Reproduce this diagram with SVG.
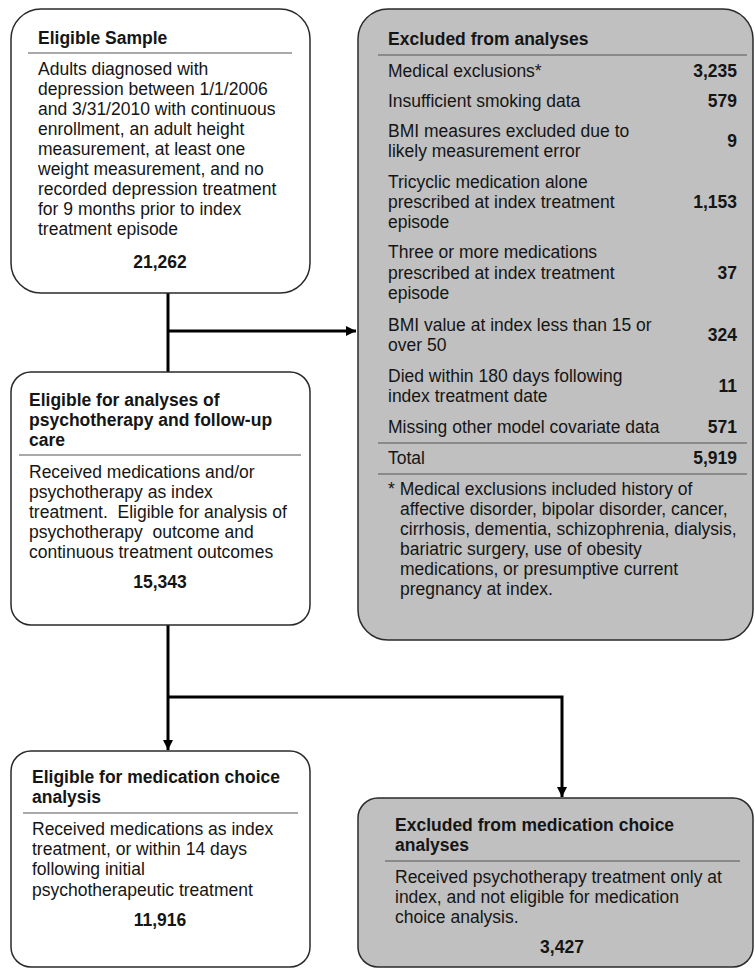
<svg xmlns="http://www.w3.org/2000/svg" width="755" height="969" viewBox="0 0 755 969">
<defs>
<style>
text{font-family:"Liberation Sans",Arial,sans-serif;font-size:17.5px;fill:#151515}
.b{font-weight:bold}
.n{font-weight:bold;text-anchor:end}
.c{font-weight:bold;text-anchor:middle}
.box{fill:#ffffff;stroke:#2a2a2a;stroke-width:1.5}
.gray{fill:#c0c0c0;stroke:#2a2a2a;stroke-width:1.5}
.sep{stroke:#555555;stroke-width:1.2}
.conn{fill:none;stroke:#000000;stroke-width:3}
</style>
<marker id="ah" viewBox="0 0 10 10" refX="10" refY="5" markerWidth="3.4" markerHeight="3.4" markerUnits="strokeWidth" orient="auto">
<path d="M0,0 L10,5 L0,10 Z" fill="#000000"/>
</marker>
</defs>
<rect width="755" height="969" fill="#ffffff"/>

<g id="connectors">
<path class="conn" d="M168,293 V372"/>
<path class="conn" d="M168,331 H356" marker-end="url(#ah)"/>
<path class="conn" d="M168,625 V750" marker-end="url(#ah)"/>
<path class="conn" d="M168,697 H562 V797" marker-end="url(#ah)"/>
</g>

<g id="eligible-sample">
<rect class="box" x="11" y="9" width="299" height="284" rx="30" ry="30"/>
<text class="b" x="38" y="44">Eligible Sample</text>
<line class="sep" x1="28" y1="53" x2="292" y2="53"/>
<text x="38" y="75">Adults diagnosed with</text>
<text x="38" y="95">depression between 1/1/2006</text>
<text x="38" y="115">and 3/31/2010 with continuous</text>
<text x="38" y="135">enrollment, an adult height</text>
<text x="38" y="155">measurement, at least one</text>
<text x="38" y="175">weight measurement, and no</text>
<text x="38" y="195">recorded depression treatment</text>
<text x="38" y="215">for 9 months prior to index</text>
<text x="38" y="235">treatment episode</text>
<text class="c" x="160" y="268">21,262</text>
</g>

<g id="excluded-analyses">
<rect class="gray" x="358" y="9" width="395" height="631" rx="30" ry="30"/>
<text class="b" x="388" y="45">Excluded from analyses</text>
<line class="sep" x1="378" y1="55" x2="747" y2="55"/>
<text x="388" y="77">Medical exclusions*</text>
<text class="n" x="737" y="77">3,235</text>
<text x="388" y="107">Insufficient smoking data</text>
<text class="n" x="737" y="107">579</text>
<text x="388" y="137">BMI measures excluded due to</text>
<text x="388" y="157">likely measurement error</text>
<text class="n" x="737" y="147">9</text>
<text x="388" y="188">Tricyclic medication alone</text>
<text x="388" y="208">prescribed at index treatment</text>
<text x="388" y="228">episode</text>
<text class="n" x="737" y="208">1,153</text>
<text x="388" y="258">Three or more medications</text>
<text x="388" y="279">prescribed at index treatment</text>
<text x="388" y="299">episode</text>
<text class="n" x="737" y="279">37</text>
<text x="388" y="331">BMI value at index less than 15 or</text>
<text x="388" y="351">over 50</text>
<text class="n" x="737" y="341">324</text>
<text x="388" y="382">Died within 180 days following</text>
<text x="388" y="402">index treatment date</text>
<text class="n" x="737" y="392">11</text>
<text x="388" y="433">Missing other model covariate data</text>
<text class="n" x="737" y="433">571</text>
<line class="sep" x1="378" y1="443" x2="747" y2="443"/>
<text x="388" y="464">Total</text>
<text class="n" x="737" y="464">5,919</text>
<line class="sep" x1="378" y1="474" x2="747" y2="474"/>
<text x="388" y="495">* Medical exclusions included history of</text>
<text x="400" y="515">affective disorder, bipolar disorder, cancer,</text>
<text x="400" y="535">cirrhosis, dementia, schizophrenia, dialysis,</text>
<text x="400" y="555">bariatric surgery, use of obesity</text>
<text x="400" y="575">medications, or presumptive current</text>
<text x="400" y="595">pregnancy at index.</text>
</g>

<g id="eligible-psychotherapy">
<rect class="box" x="11" y="372" width="299" height="253" rx="20" ry="20"/>
<text class="b" x="29" y="406">Eligible for analyses of</text>
<text class="b" x="29" y="426">psychotherapy and follow-up</text>
<text class="b" x="29" y="446">care</text>
<line class="sep" x1="19" y1="455" x2="301" y2="455"/>
<text x="29" y="478">Received medications and/or</text>
<text x="29" y="498">psychotherapy as index</text>
<text x="29" y="518" xml:space="preserve">treatment.  Eligible for analysis of</text>
<text x="29" y="538" xml:space="preserve">psychotherapy  outcome and</text>
<text x="29" y="558">continuous treatment outcomes</text>
<text class="c" x="160" y="588">15,343</text>
</g>

<g id="eligible-medication">
<rect class="box" x="11" y="751" width="299" height="216" rx="20" ry="20"/>
<text class="b" x="32" y="783">Eligible for medication choice</text>
<text class="b" x="32" y="803">analysis</text>
<line class="sep" x1="23" y1="813" x2="298" y2="813"/>
<text x="32" y="835">Received medications as index</text>
<text x="32" y="855">treatment, or within 14 days</text>
<text x="32" y="875">following initial</text>
<text x="32" y="896">psychotherapeutic treatment</text>
<text class="c" x="160" y="926">11,916</text>
</g>

<g id="excluded-medication">
<rect class="gray" x="358" y="798" width="395" height="169" rx="20" ry="20"/>
<text class="b" x="395" y="831">Excluded from medication choice</text>
<text class="b" x="395" y="851">analyses</text>
<line class="sep" x1="385" y1="861" x2="740" y2="861"/>
<text x="395" y="883">Received psychotherapy treatment only at</text>
<text x="395" y="903">index, and not eligible for medication</text>
<text x="395" y="923">choice analysis.</text>
<text class="c" x="562" y="953">3,427</text>
</g>
</svg>
